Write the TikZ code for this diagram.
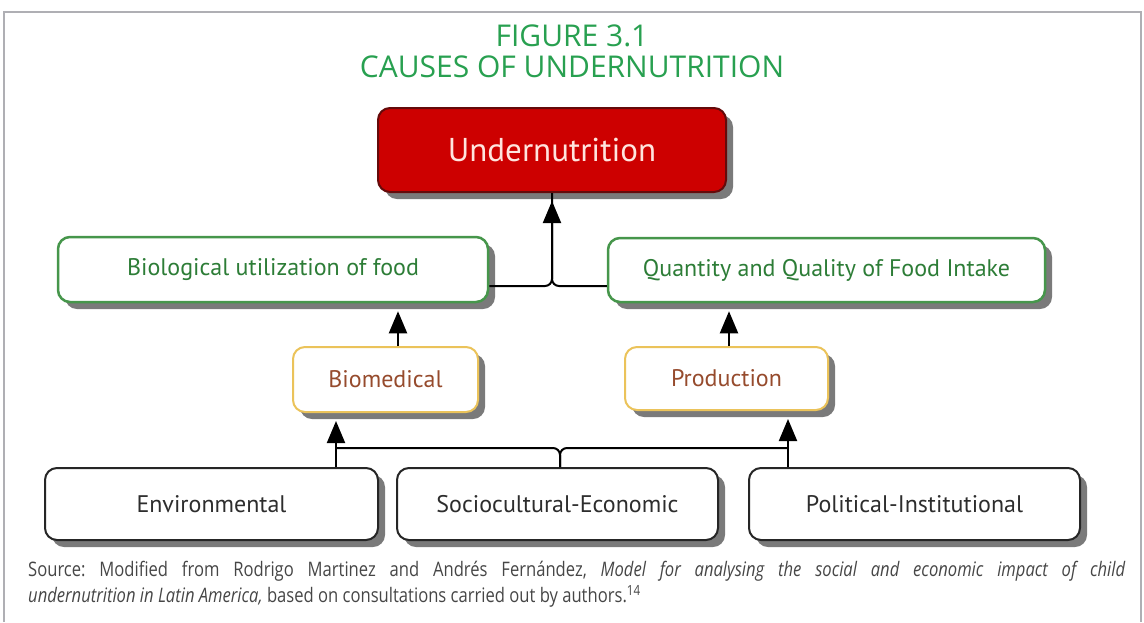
\documentclass[tikz,border=0pt]{standalone}
\usepackage{fontspec}
\setmainfont{PT Sans}
\newfontfamily\headfont[FakeStretch=1.0]{Open Sans}
\newfontfamily\notefont[FakeStretch=0.83]{Open Sans}
\usetikzlibrary{arrows.meta, shadows}
\definecolor{titlegreen}{RGB}{40,160,80}
\definecolor{boxred}{RGB}{205,0,0}
\definecolor{reddark}{RGB}{100,10,10}
\definecolor{redtext}{RGB}{255,228,222}
\definecolor{leafgreen}{RGB}{70,150,75}
\definecolor{leaftext}{RGB}{45,125,55}
\definecolor{amber}{RGB}{235,195,90}
\definecolor{rust}{RGB}{150,75,45}
\definecolor{inkgray}{RGB}{45,45,45}
\definecolor{framegray}{RGB}{175,175,180}
\definecolor{capgray}{RGB}{70,70,70}

\begin{document}
\begin{tikzpicture}[x=1pt, y=-1pt]

\tikzset{boxbase/.style={shape=rectangle, rounded corners=12pt, inner sep=0pt, line width=2,
    drop shadow={shadow xshift=7pt, shadow yshift=-7pt, fill=black!52, opacity=1}}}
\tikzset{redbox/.style={boxbase, fill=boxred, draw=reddark, text=redtext, font=\fontsize{33}{36}\selectfont}}
\tikzset{greenbox/.style={boxbase, fill=white, draw=leafgreen, line width=2.5, text=leaftext, font=\fontsize{24}{28}\selectfont}}
\tikzset{orangebox/.style={boxbase, fill=white, draw=amber, text=rust, font=\fontsize{24}{28}\selectfont}}
\tikzset{basebox/.style={boxbase, fill=white, draw=black!85, text=inkgray, font=\fontsize{24}{28}\selectfont}}
\tikzset{line/.style={line width=2, black, rounded corners=7pt}}
\tikzset{link/.style={line, -{Triangle[length=22pt, width=18pt]}, shorten >=8pt}}

\useasboundingbox (0,0) rectangle (1144,622);
\draw[framegray, line width=2.5] (4,622) -- (4,12) -- (1141,12) -- (1141,622);

\node[text=titlegreen, font=\headfont\fontsize{30}{31}\selectfont, align=center] (title) at (572,51)
    {FIGURE 3.1\\CAUSES OF UNDERNUTRITION};

\node[redbox, minimum width=348, minimum height=84] (under) at (552,150) {Undernutrition};
\node[greenbox, minimum width=430, minimum height=65] (bio) at (273,269.5) {Biological utilization of food};
\node[greenbox, minimum width=437, minimum height=64] (qty) at (826.5,270) {Quantity and Quality of Food Intake};
\node[orangebox, minimum width=185, minimum height=65] (biomed) at (385.5,379.5) {Biomedical};
\node[orangebox, minimum width=203, minimum height=63] (prod) at (726.5,378.5) {Production};
\node[basebox, minimum width=333, minimum height=72] (env) at (211.5,504) {Environmental};
\node[basebox, minimum width=321, minimum height=72] (socio) at (557.5,504) {Sociocultural-Economic};
\node[basebox, minimum width=331, minimum height=72] (polit) at (914.5,504) {Political-Institutional};

\coordinate (ytop) at (0,286);
\coordinate (bus) at (0,448);
\coordinate (xb) at (398,0);
\coordinate (xq) at (729,0);
\coordinate (xl) at (336,0);
\coordinate (xm) at (560,0);
\coordinate (xr) at (788,0);

\draw[link] (bio.east |- ytop) -| (under.south);
\draw[line] (qty.west |- ytop) -| (under.south);
\draw[link] (biomed.north -| xb) -- (bio.south -| xb);
\draw[link] (prod.north -| xq) -- (qty.south -| xq);
\draw[link] (env.north -| xl) -- (biomed.south -| xl);
\draw[link] (polit.north -| xr) -- (prod.south -| xr);
\draw[line] (socio.north -| xm) |- (xl |- bus);
\draw[line] (socio.north -| xm) |- (xr |- bus);

\node[anchor=north west, text width=1097, align=justify, inner sep=0pt, text=capgray,
    font=\notefont\fontsize{20}{26}\selectfont] (note) at (28,561)
    {\frenchspacing Source: Modified from Rodrigo Martinez and Andrés Fernández, \textit{Model for analysing the social and economic impact of child\linebreak undernutrition in Latin America,} based on consultations carried out by authors.\textsuperscript{14}};

\end{tikzpicture}
\end{document}
